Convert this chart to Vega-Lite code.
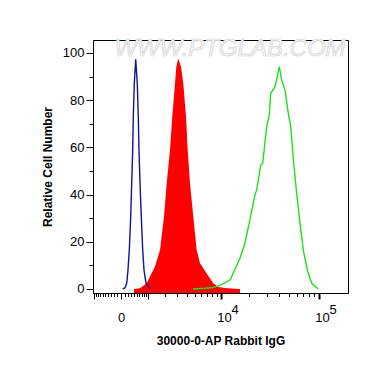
{
  "$schema": "https://vega.github.io/schema/vega-lite/v6.json",
  "width": 255,
  "height": 253,
  "autosize": "none",
  "padding": {"left": 93, "top": 40, "right": 22, "bottom": 74},
  "background": "white",
  "config": {
    "view": {"stroke": "black", "strokeWidth": 1},
    "font": "Liberation Sans",
    "axis": {
      "domainColor": "black", "tickColor": "black", "labelColor": "black", "titleColor": "black",
      "labelFont": "Liberation Sans", "titleFont": "Liberation Sans",
      "labelFontSize": 13, "titleFontSize": 12, "titleFontWeight": "bold", "grid": false
    }
  },
  "datasets": {
    "hist": [
      {"series": "blank", "fluor": 46, "count": 0},
      {"series": "blank", "fluor": 111, "count": 0.5},
      {"series": "blank", "fluor": 161, "count": 2.4},
      {"series": "blank", "fluor": 201, "count": 8},
      {"series": "blank", "fluor": 242, "count": 16.5},
      {"series": "blank", "fluor": 288, "count": 30.6},
      {"series": "blank", "fluor": 321, "count": 44.8},
      {"series": "blank", "fluor": 355, "count": 58.9},
      {"series": "blank", "fluor": 376, "count": 73},
      {"series": "blank", "fluor": 411, "count": 87},
      {"series": "blank", "fluor": 462, "count": 97.3},
      {"series": "blank", "fluor": 522, "count": 87},
      {"series": "blank", "fluor": 561, "count": 73},
      {"series": "blank", "fluor": 588, "count": 58.9},
      {"series": "blank", "fluor": 629, "count": 44.8},
      {"series": "blank", "fluor": 682, "count": 30.6},
      {"series": "blank", "fluor": 742, "count": 16.5},
      {"series": "blank", "fluor": 799, "count": 8},
      {"series": "blank", "fluor": 890, "count": 2.4},
      {"series": "blank", "fluor": 1084, "count": 0},
      {"series": "isotype", "fluor": 400, "count": 0},
      {"series": "isotype", "fluor": 629, "count": 0.3},
      {"series": "isotype", "fluor": 922, "count": 2.4},
      {"series": "isotype", "fluor": 1354, "count": 9.5},
      {"series": "isotype", "fluor": 1655, "count": 16.5},
      {"series": "isotype", "fluor": 1922, "count": 30.6},
      {"series": "isotype", "fluor": 2116, "count": 44.8},
      {"series": "isotype", "fluor": 2370, "count": 58.9},
      {"series": "isotype", "fluor": 2558, "count": 73},
      {"series": "isotype", "fluor": 2792, "count": 87.1},
      {"series": "isotype", "fluor": 2910, "count": 94.2},
      {"series": "isotype", "fluor": 3098, "count": 97.7},
      {"series": "isotype", "fluor": 3365, "count": 94.2},
      {"series": "isotype", "fluor": 3607, "count": 87.1},
      {"series": "isotype", "fluor": 3906, "count": 73},
      {"series": "isotype", "fluor": 4104, "count": 58.9},
      {"series": "isotype", "fluor": 4385, "count": 44.8},
      {"series": "isotype", "fluor": 4813, "count": 30.6},
      {"series": "isotype", "fluor": 5289, "count": 16.5},
      {"series": "isotype", "fluor": 5787, "count": 10.9},
      {"series": "isotype", "fluor": 6919, "count": 6.6},
      {"series": "isotype", "fluor": 8215, "count": 2.4},
      {"series": "isotype", "fluor": 9333, "count": 0.8},
      {"series": "isotype", "fluor": 11517, "count": 0.3},
      {"series": "isotype", "fluor": 15941, "count": 0},
      {"series": "antibody", "fluor": 4773, "count": 0},
      {"series": "antibody", "fluor": 6616, "count": 0.3},
      {"series": "antibody", "fluor": 8152, "count": 0.6},
      {"series": "antibody", "fluor": 9742, "count": 1.5},
      {"series": "antibody", "fluor": 12494, "count": 3.8},
      {"series": "antibody", "fluor": 15941, "count": 13},
      {"series": "antibody", "fluor": 17975, "count": 19.5},
      {"series": "antibody", "fluor": 20256, "count": 29.5},
      {"series": "antibody", "fluor": 22805, "count": 40},
      {"series": "antibody", "fluor": 23739, "count": 42},
      {"series": "antibody", "fluor": 26084, "count": 52.5},
      {"series": "antibody", "fluor": 27337, "count": 53.3},
      {"series": "antibody", "fluor": 30019, "count": 68.8},
      {"series": "antibody", "fluor": 31898, "count": 73.7},
      {"series": "antibody", "fluor": 32955, "count": 82.9},
      {"series": "antibody", "fluor": 36420, "count": 85.7},
      {"series": "antibody", "fluor": 38414, "count": 90},
      {"series": "antibody", "fluor": 40234, "count": 94.2},
      {"series": "antibody", "fluor": 42530, "count": 88.5},
      {"series": "antibody", "fluor": 45896, "count": 84.3},
      {"series": "antibody", "fluor": 49522, "count": 74.4},
      {"series": "antibody", "fluor": 52332, "count": 68.8},
      {"series": "antibody", "fluor": 56451, "count": 51.8},
      {"series": "antibody", "fluor": 60056, "count": 40.5},
      {"series": "antibody", "fluor": 64771, "count": 27.8},
      {"series": "antibody", "fluor": 69848, "count": 16.5},
      {"series": "antibody", "fluor": 76529, "count": 8},
      {"series": "antibody", "fluor": 84613, "count": 2.4},
      {"series": "antibody", "fluor": 98333, "count": 0}
    ],
    "sup": [
      {"fluor": 10000, "exp": "4"},
      {"fluor": 100000, "exp": "5"}
    ],
    "mark": [
      {"site": "WWW.PTGLAB.COM"}
    ]
  },
  "layer": [
    {
      "data": {"name": "hist"},
      "transform": [{"filter": "datum.series == 'isotype'"}],
      "mark": {"type": "area", "color": "#ff0000"},
      "encoding": {
        "x": {
          "field": "fluor", "type": "quantitative",
          "scale": {"type": "symlog", "constant": 1180, "domain": [-1034, 192800], "nice": false, "zero": false},
          "axis": {
            "title": "30000-0-AP Rabbit IgG",
            "values": [-1000, -900, -800, -700, -600, -500, -400, -300, -200, -100, 0, 100, 200, 300, 400, 500, 600, 700, 800, 900, 1000, 2000, 3000, 4000, 5000, 6000, 7000, 8000, 9000, 10000, 20000, 30000, 40000, 50000, 60000, 70000, 80000, 90000, 100000],
            "tickCount": 200,
            "labelExpr": "datum.value == 0 ? '0' : ((datum.value == 10000 || datum.value == 100000) ? '10' : '')",
            "labelOverlap": false,
            "labelFlush": false,
            "labelBound": false,
            "labelPadding": 12,
            "labelOffset": {"condition": {"test": "datum.value > 0", "value": 3}, "value": 0},
            "tickSize": {"condition": {"test": "datum.value == 0 || datum.value == 10000 || datum.value == 100000 || abs(datum.value) == 1000", "value": 6}, "value": 3.5},
            "tickWidth": {"condition": {"test": "datum.value == 10000 || datum.value == 100000", "value": 2}, "value": 1},
            "titlePadding": 11
          }
        },
        "y": {
          "field": "count", "type": "quantitative",
          "scale": {"domain": [-1.7, 105.5], "nice": false, "zero": false},
          "axis": {
            "title": "Relative Cell Number",
            "values": [0, 10, 20, 30, 40, 50, 60, 70, 80, 90, 100],
            "tickCount": 100,
            "labelExpr": "datum.value % 20 == 0 ? datum.label : ''",
            "labelOverlap": false,
            "tickSize": {"condition": {"test": "datum.value % 20 == 0", "value": 7}, "value": 4},
            "labelPadding": 2,
            "titlePadding": 8
          }
        },
        "y2": {"datum": -1.7}
      }
    },
    {
      "data": {"name": "hist"},
      "transform": [{"filter": "datum.series != 'isotype'"}],
      "mark": {"type": "line", "strokeWidth": 1.4},
      "encoding": {
        "x": {"field": "fluor", "type": "quantitative"},
        "y": {"field": "count", "type": "quantitative"},
        "color": {"field": "series", "type": "nominal", "scale": {"domain": ["blank", "antibody"], "range": ["#14148c", "#22dd22"]}, "legend": null}
      }
    },
    {
      "data": {"name": "sup"},
      "mark": {"type": "text", "fontSize": 13, "dx": 14, "align": "center", "baseline": "middle", "color": "black"},
      "encoding": {
        "x": {"field": "fluor", "type": "quantitative"},
        "y": {"datum": -8.8},
        "text": {"field": "exp"}
      }
    },
    {
      "data": {"name": "mark"},
      "mark": {"type": "text", "fontSize": 24, "fontStyle": "italic", "fill": "#f7f7f7", "stroke": "#d2d2d2", "strokeWidth": 0.7, "align": "center", "baseline": "middle"},
      "encoding": {
        "x": {"datum": 12500},
        "y": {"datum": 101.5},
        "text": {"field": "site"}
      }
    }
  ]
}
